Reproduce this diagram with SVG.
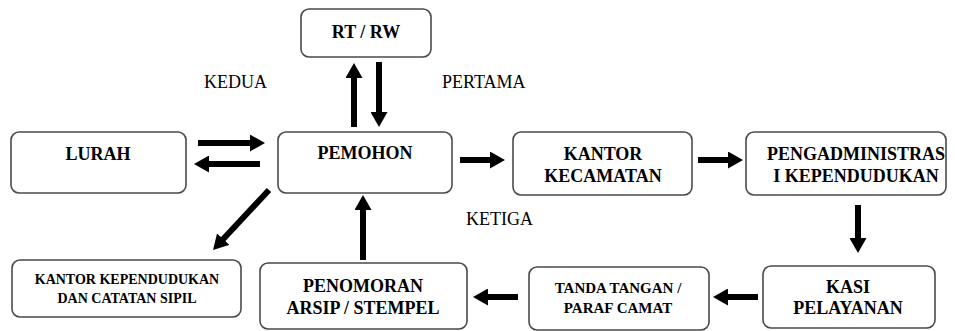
<svg xmlns="http://www.w3.org/2000/svg" width="955" height="331" viewBox="0 0 955 331">
<defs>
<marker id="ah" markerUnits="userSpaceOnUse" markerWidth="15" markerHeight="17" viewBox="0 0 15 17" refX="1" refY="8.5" orient="auto">
<path d="M0,0 L15,8.5 L0,17 Z" fill="#000"/>
</marker>
</defs>
<rect width="955" height="331" fill="#fff"/>
<g id="rtrw"><rect x="301" y="9" width="130" height="48" rx="8" fill="#fff" stroke="#4a4a4a" stroke-width="1.6"/><text x="366" y="38" font-family="Times New Roman, Liberation Serif, serif" font-size="18" font-weight="bold" text-anchor="middle">RT / RW</text></g>
<g id="lurah"><rect x="11" y="132" width="175" height="61" rx="8" fill="#fff" stroke="#4a4a4a" stroke-width="1.6"/><text x="98" y="160" font-family="Times New Roman, Liberation Serif, serif" font-size="18" font-weight="bold" text-anchor="middle">LURAH</text></g>
<g id="pemohon"><rect x="278" y="132" width="174" height="61" rx="8" fill="#fff" stroke="#4a4a4a" stroke-width="1.6"/><text x="365" y="159" font-family="Times New Roman, Liberation Serif, serif" font-size="18" font-weight="bold" text-anchor="middle">PEMOHON</text></g>
<g id="kecamatan"><rect x="513" y="132" width="179" height="63" rx="8" fill="#fff" stroke="#4a4a4a" stroke-width="1.6"/><text x="603" y="160" font-family="Times New Roman, Liberation Serif, serif" font-size="18" font-weight="bold" text-anchor="middle">KANTOR</text><text x="603" y="182" font-family="Times New Roman, Liberation Serif, serif" font-size="18" font-weight="bold" text-anchor="middle">KECAMATAN</text></g>
<g id="pengadministrasi"><rect x="746" y="132" width="200" height="63" rx="8" fill="#fff" stroke="#4a4a4a" stroke-width="1.6"/><text x="856" y="160" font-family="Times New Roman, Liberation Serif, serif" font-size="18" font-weight="bold" text-anchor="middle">PENGADMINISTRAS</text><text x="856" y="182" font-family="Times New Roman, Liberation Serif, serif" font-size="18" font-weight="bold" text-anchor="middle">I KEPENDUDUKAN</text></g>
<g id="dukcapil"><rect x="12" y="260" width="229" height="57" rx="8" fill="#fff" stroke="#4a4a4a" stroke-width="1.6"/><text x="127" y="284" font-family="Times New Roman, Liberation Serif, serif" font-size="14" font-weight="bold" text-anchor="middle">KANTOR KEPENDUDUKAN</text><text x="127" y="303" font-family="Times New Roman, Liberation Serif, serif" font-size="14" font-weight="bold" text-anchor="middle">DAN CATATAN SIPIL</text></g>
<g id="penomoran"><rect x="260" y="263" width="207" height="66" rx="8" fill="#fff" stroke="#4a4a4a" stroke-width="1.6"/><text x="363" y="292" font-family="Times New Roman, Liberation Serif, serif" font-size="18" font-weight="bold" text-anchor="middle">PENOMORAN</text><text x="363" y="314" font-family="Times New Roman, Liberation Serif, serif" font-size="18" font-weight="bold" text-anchor="middle">ARSIP / STEMPEL</text></g>
<g id="tandatangan"><rect x="529" y="267" width="180" height="63" rx="8" fill="#fff" stroke="#4a4a4a" stroke-width="1.6"/><text x="618" y="293" font-family="Times New Roman, Liberation Serif, serif" font-size="15" font-weight="bold" text-anchor="middle">TANDA TANGAN /</text><text x="618" y="313" font-family="Times New Roman, Liberation Serif, serif" font-size="15" font-weight="bold" text-anchor="middle">PARAF CAMAT</text></g>
<g id="kasi"><rect x="763" y="266" width="172" height="62" rx="8" fill="#fff" stroke="#4a4a4a" stroke-width="1.6"/><text x="848" y="293" font-family="Times New Roman, Liberation Serif, serif" font-size="18" font-weight="bold" text-anchor="middle">KASI</text><text x="848" y="314" font-family="Times New Roman, Liberation Serif, serif" font-size="18" font-weight="bold" text-anchor="middle">PELAYANAN</text></g>
<g id="labels">
<text x="204" y="88" font-family="Times New Roman, Liberation Serif, serif" font-size="18">KEDUA</text>
<text x="442" y="88" font-family="Times New Roman, Liberation Serif, serif" font-size="18">PERTAMA</text>
<text x="466" y="225" font-family="Times New Roman, Liberation Serif, serif" font-size="18">KETIGA</text>
</g>
<g id="connectors" stroke="#000" stroke-width="6" fill="none" marker-end="url(#ah)">
<line x1="354" y1="127" x2="354" y2="77"/>
<line x1="379" y1="62" x2="379" y2="113"/>
<line x1="198" y1="143" x2="251" y2="143"/>
<line x1="260" y1="164" x2="208" y2="164"/>
<line x1="460" y1="160" x2="491" y2="160"/>
<line x1="698" y1="160" x2="729" y2="160"/>
<line x1="858" y1="205" x2="858" y2="239"/>
<line x1="758" y1="297" x2="727" y2="297"/>
<line x1="518" y1="297" x2="487" y2="297"/>
<line x1="363" y1="260" x2="363" y2="209"/>
<line x1="269" y1="190" x2="222.6" y2="239.8"/>
</g>
</svg>
